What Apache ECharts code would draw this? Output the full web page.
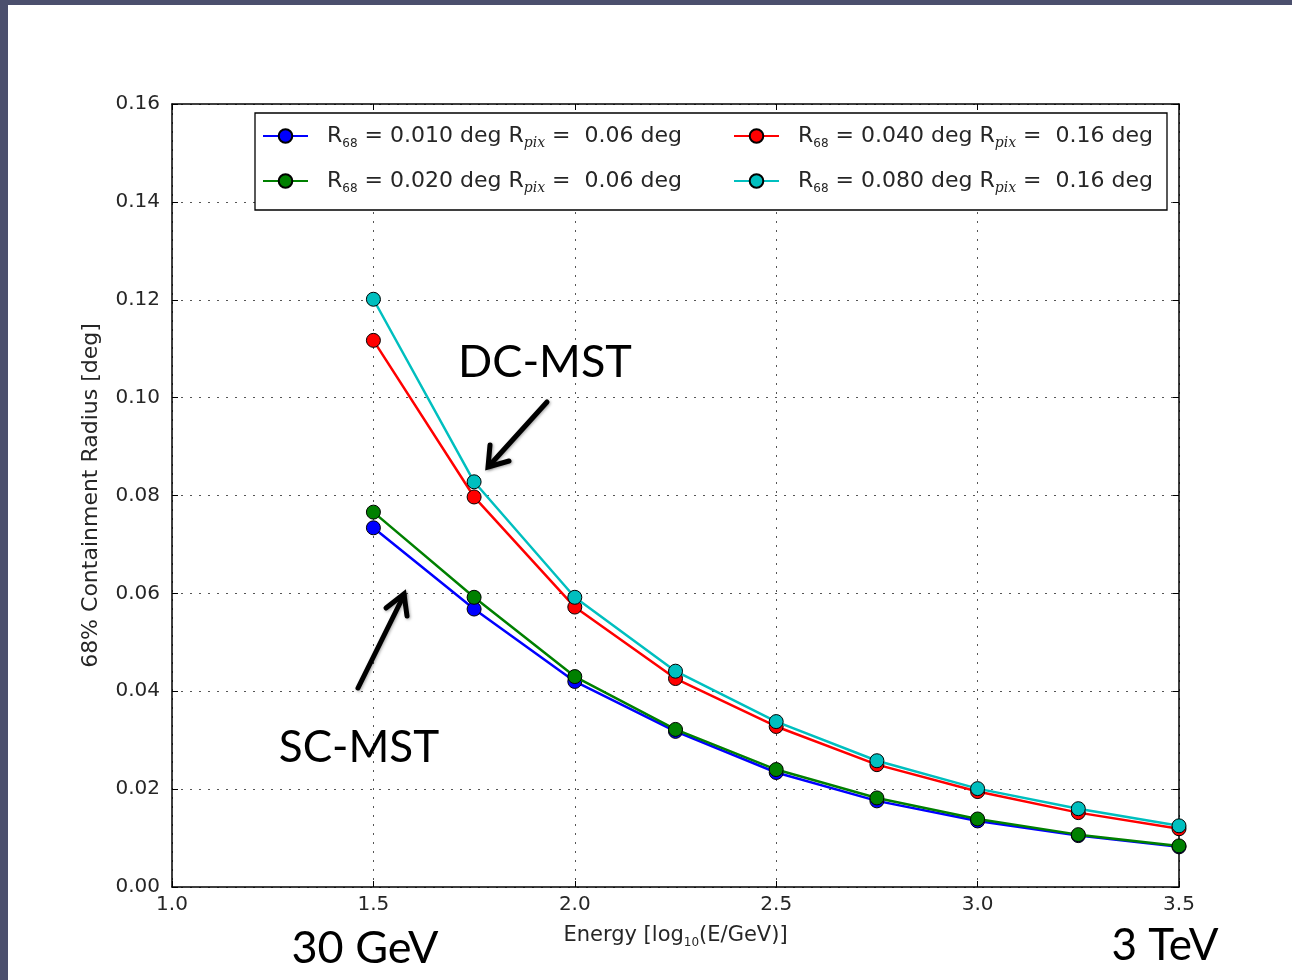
<!DOCTYPE html>
<html>
<head>
<meta charset="utf-8">
<script src="https://cdn.jsdelivr.net/npm/echarts@6/dist/echarts.min.js"></script>
<style>
  html, body { margin: 0; padding: 0; background: #ffffff; }
  #chart { width: 1292px; height: 980px; }
</style>
</head>
<body>
<div id="chart"></div>
<script>
// log10(E/GeV) sampling points
const energies = [1.5, 1.75, 2.0, 2.25, 2.5, 2.75, 3.0, 3.25, 3.5];

// 68% containment radius [deg] for each configuration
const radiusR010 = [0.0734, 0.0568, 0.0420, 0.0318, 0.0234, 0.0176, 0.0135, 0.0105, 0.0082];
const radiusR020 = [0.0766, 0.0592, 0.0430, 0.0322, 0.0240, 0.0182, 0.0139, 0.0107, 0.0084];
const radiusR040 = [0.1117, 0.0797, 0.0572, 0.0426, 0.0328, 0.0250, 0.0195, 0.0152, 0.0119];
const radiusR080 = [0.1201, 0.0828, 0.0592, 0.0441, 0.0338, 0.0258, 0.0201, 0.0160, 0.0125];

// legend parameters
const r68Values = ['0.010', '0.020', '0.040', '0.080'];
const rPixValues = ['0.06', '0.06', '0.16', '0.16'];
const seriesColors = ['#0000ff', '#008000', '#ff0000', '#00bfbf'];

const xTicks = { min: 1.0, max: 3.5, interval: 0.5 };
const yTicks = { min: 0.0, max: 0.16, interval: 0.02 };

const seriesValues = [radiusR010, radiusR020, radiusR040, radiusR080];
const seriesNames = r68Values.map((r, i) => 'R68 = ' + r + ' deg Rpix = ' + rPixValues[i] + ' deg');

const chart = echarts.init(document.getElementById('chart'), null, { renderer: 'canvas' });

const baseFont = 'DejaVu Sans';
const slideFont = 'Lato';
const textColor = '#262626';

const legendRich = {
  t: { fontFamily: baseFont, fontSize: 22, color: textColor, lineHeight: 28 },
  s: { fontFamily: baseFont, fontSize: 12, color: textColor, lineHeight: 28, verticalAlign: 'bottom' },
  p: { fontFamily: 'DejaVu Serif', fontStyle: 'italic', fontSize: 14, color: textColor, lineHeight: 28, verticalAlign: 'bottom' }
};

function legendLabel(name) {
  const i = seriesNames.indexOf(name);
  return '{t|R}{s|68}{t| = ' + r68Values[i] + ' deg R}{p|pix}{t| =  ' + rPixValues[i] + ' deg}';
}

function makeLegend(names, left) {
  return {
    data: names,
    orient: 'vertical',
    left: left,
    top: 125,
    itemWidth: 45,
    itemHeight: 17,
    itemGap: 20,
    padding: 0,
    z: 6,
    selectedMode: false,
    formatter: legendLabel,
    textStyle: { rich: legendRich, padding: [0, 0, 0, 14] }
  };
}

const series = seriesValues.map((vals, i) => ({
  name: seriesNames[i],
  type: 'line',
  data: energies.map((e, k) => [e, vals[k]]),
  symbol: 'circle',
  symbolSize: 14,
  showSymbol: true,
  lineStyle: { color: seriesColors[i], width: 2.5 },
  itemStyle: { color: seriesColors[i], borderColor: '#000', borderWidth: 1 },
  emphasis: { disabled: true },
  z: 2 + i,
  animation: false
}));

const tickLabelStyle = { fontFamily: baseFont, fontSize: 20, color: textColor };
const dotted = { color: '#555', width: 1, type: [2, 7] };
const tickStyle = { show: true, inside: true, length: 6, lineStyle: { color: '#000', width: 1 } };
const frameLine = { show: true, onZero: false, lineStyle: { color: '#000', width: 1.5 } };

chart.setOption({
  backgroundColor: '#ffffff',
  animation: false,
  grid: { left: 172, top: 104, right: 113, bottom: 93, show: false },
  xAxis: [
    {
      type: 'value', min: xTicks.min, max: xTicks.max, interval: xTicks.interval,
      name: 'Energy [log{sub|10}(E/GeV)]',
      nameLocation: 'middle', nameGap: 36,
      nameTextStyle: {
        fontFamily: baseFont, fontSize: 21, color: textColor, lineHeight: 26,
        rich: { sub: { fontFamily: baseFont, fontSize: 12, color: textColor, verticalAlign: 'bottom', lineHeight: 26 } }
      },
      axisLine: frameLine,
      axisTick: tickStyle,
      axisLabel: { ...tickLabelStyle, margin: 8, formatter: v => v.toFixed(1) },
      splitLine: { show: true, lineStyle: dotted }
    },
    {
      type: 'value', position: 'top', min: xTicks.min, max: xTicks.max, interval: xTicks.interval,
      axisLine: frameLine,
      axisTick: tickStyle,
      axisLabel: { show: false },
      splitLine: { show: false }
    }
  ],
  yAxis: [
    {
      type: 'value', min: yTicks.min, max: yTicks.max, interval: yTicks.interval,
      name: '68% Containment Radius [deg]',
      nameLocation: 'middle', nameGap: 70, nameRotate: 90,
      nameTextStyle: { fontFamily: baseFont, fontSize: 22, color: textColor },
      axisLine: frameLine,
      axisTick: tickStyle,
      axisLabel: { ...tickLabelStyle, margin: 12, formatter: v => v.toFixed(2) },
      splitLine: { show: true, lineStyle: dotted }
    },
    {
      type: 'value', position: 'right', min: yTicks.min, max: yTicks.max, interval: yTicks.interval,
      axisLine: frameLine,
      axisTick: tickStyle,
      axisLabel: { show: false },
      splitLine: { show: false }
    }
  ],
  legend: [
    makeLegend([seriesNames[0], seriesNames[1]], 262),
    makeLegend([seriesNames[2], seriesNames[3]], 733)
  ],
  series: series,
  graphic: [
    // slide frame
    { type: 'rect', shape: { x: 0, y: 0, width: 1292, height: 5 }, style: { fill: '#4b4f6d' }, z: 100, silent: true },
    { type: 'rect', shape: { x: 0, y: 0, width: 8, height: 980 }, style: { fill: '#4b4f6d' }, z: 100, silent: true },
    // legend box
    { type: 'rect', shape: { x: 255, y: 113, width: 912, height: 97 },
      style: { fill: '#ffffff', stroke: '#000', lineWidth: 1.3 }, z: 5, silent: true },
    // annotations
    { type: 'text', x: 545, y: 362, z: 20, silent: true,
      style: { text: 'DC-MST', fontFamily: slideFont, fontSize: 45, fill: '#000', align: 'center', verticalAlign: 'middle' } },
    { type: 'text', x: 359, y: 748, z: 20, silent: true,
      style: { text: 'SC-MST', fontFamily: slideFont, fontSize: 44, fill: '#000', align: 'center', verticalAlign: 'middle' } },
    { type: 'text', x: 365, y: 948, z: 20, silent: true,
      style: { text: '30 GeV', fontFamily: slideFont, fontSize: 45, fill: '#000', align: 'center', verticalAlign: 'middle' } },
    { type: 'text', x: 1165, y: 946, z: 20, silent: true,
      style: { text: '3 TeV', fontFamily: slideFont, fontSize: 44, fill: '#000', align: 'center', verticalAlign: 'middle' } },
    // arrows
    { type: 'polyline', z: 20, silent: true, shape: { points: [[547, 402], [489, 466]] },
      style: { stroke: '#000', lineWidth: 5, lineCap: 'round', shadowColor: 'rgba(0,0,0,0.35)', shadowBlur: 3, shadowOffsetX: 1, shadowOffsetY: 1 } },
    { type: 'polyline', z: 20, silent: true, shape: { points: [[490, 445], [488, 467], [509, 461]] },
      style: { stroke: '#000', lineWidth: 5, lineCap: 'round', lineJoin: 'miter', fill: null, shadowColor: 'rgba(0,0,0,0.35)', shadowBlur: 3, shadowOffsetX: 1, shadowOffsetY: 1 } },
    { type: 'polyline', z: 20, silent: true, shape: { points: [[358, 688], [404, 595]] },
      style: { stroke: '#000', lineWidth: 5, lineCap: 'round', shadowColor: 'rgba(0,0,0,0.35)', shadowBlur: 3, shadowOffsetX: 1, shadowOffsetY: 1 } },
    { type: 'polyline', z: 20, silent: true, shape: { points: [[386, 608], [404, 594], [407, 616]] },
      style: { stroke: '#000', lineWidth: 5, lineCap: 'round', lineJoin: 'miter', fill: null, shadowColor: 'rgba(0,0,0,0.35)', shadowBlur: 3, shadowOffsetX: 1, shadowOffsetY: 1 } }
  ]
});
</script>
</body>
</html>
